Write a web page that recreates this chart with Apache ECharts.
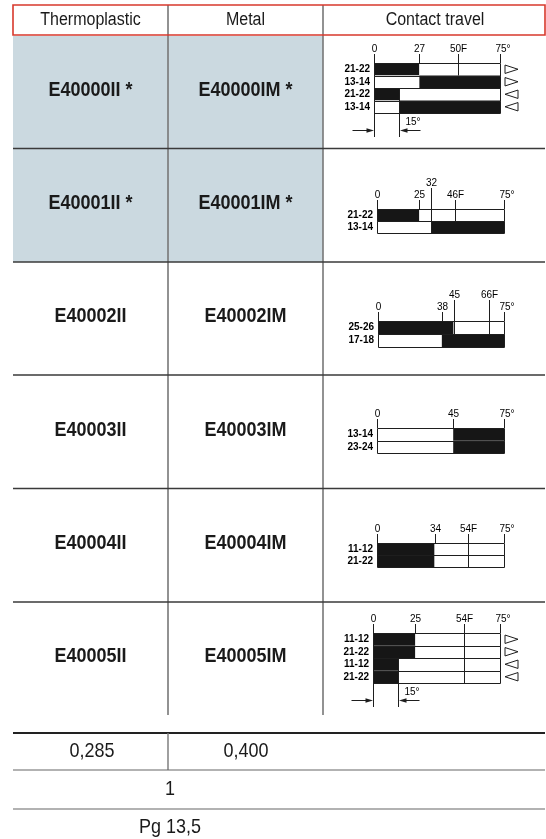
<!DOCTYPE html>
<html><head><meta charset="utf-8">
<script src="https://cdn.jsdelivr.net/npm/echarts@6/dist/echarts.min.js"></script>
<style>html,body{margin:0;padding:0;background:#fff}#c{width:546px;height:839px}</style>
</head><body><div id="c"></div>
<script>
// ---------------- data ----------------
const headers = ['Thermoplastic', 'Metal', 'Contact travel'];
const thermoCodes = ['E40000II *', 'E40001II *', 'E40002II', 'E40003II', 'E40004II', 'E40005II'];
const metalCodes = ['E40000IM *', 'E40001IM *', 'E40002IM', 'E40003IM', 'E40004IM', 'E40005IM'];
const shadedRows = [1, 1, 0, 0, 0, 0];
const weights = ['0,285', '0,400'];
const packQty = ['1'];
const gland = ['Pg 13,5'];
const travelMax = 75;

const d1Rows = ['21-22', '13-14', '21-22', '13-14'];
const d1Switch = [27, 27, 15, 15];
const d1StartBlack = [1, 0, 1, 0];
const d1TickValues = [0, 27, 50, 75];
const d1TickLabels = ['0', '27', '50F', '75°'];
const d1TickDepth = [0, 0, 1, 0];
const d1TickRaised = [0, 0, 0, 0];
const d1Arrows = ['right', 'right', 'left', 'left'];
const d1Dim = [15, 2, '15°'];

const d2Rows = ['21-22', '13-14'];
const d2Switch = [25, 32];
const d2StartBlack = [1, 0];
const d2TickValues = [0, 25, 32, 46, 75];
const d2TickLabels = ['0', '25', '32', '46F', '75°'];
const d2TickDepth = [0, 0, 2, 1, 0];
const d2TickRaised = [0, 0, 1, 0, 0];

const d3Rows = ['25-26', '17-18'];
const d3Switch = [45, 38];
const d3StartBlack = [1, 0];
const d3TickValues = [0, 38, 45, 66, 75];
const d3TickLabels = ['0', '38', '45', '66F', '75°'];
const d3TickDepth = [0, 0, 1, 1, 0];
const d3TickRaised = [0, 0, 1, 1, 0];

const d4Rows = ['13-14', '23-24'];
const d4Switch = [45, 45];
const d4StartBlack = [0, 0];
const d4TickValues = [0, 45, 75];
const d4TickLabels = ['0', '45', '75°'];
const d4TickDepth = [0, 0, 0];
const d4TickRaised = [0, 0, 0];

const d5Rows = ['11-12', '21-22'];
const d5Switch = [34, 34];
const d5StartBlack = [1, 1];
const d5TickValues = [0, 34, 54, 75];
const d5TickLabels = ['0', '34', '54F', '75°'];
const d5TickDepth = [0, 0, 2, 0];
const d5TickRaised = [0, 0, 0, 0];

const d6Rows = ['11-12', '21-22', '11-12', '21-22'];
const d6Switch = [25, 25, 15, 15];
const d6StartBlack = [1, 1, 1, 1];
const d6TickValues = [0, 25, 54, 75];
const d6TickLabels = ['0', '25', '54F', '75°'];
const d6TickDepth = [0, 0, 4, 0];
const d6TickRaised = [0, 0, 0, 0];
const d6Arrows = ['right', 'right', 'left', 'left'];
const d6Dim = [15, 2, '15°'];

const diagrams = [
  { rows: d1Rows, sw: d1Switch, sb: d1StartBlack, tv: d1TickValues, tl: d1TickLabels, td: d1TickDepth, tr: d1TickRaised, arrows: d1Arrows, dim: d1Dim },
  { rows: d2Rows, sw: d2Switch, sb: d2StartBlack, tv: d2TickValues, tl: d2TickLabels, td: d2TickDepth, tr: d2TickRaised },
  { rows: d3Rows, sw: d3Switch, sb: d3StartBlack, tv: d3TickValues, tl: d3TickLabels, td: d3TickDepth, tr: d3TickRaised },
  { rows: d4Rows, sw: d4Switch, sb: d4StartBlack, tv: d4TickValues, tl: d4TickLabels, td: d4TickDepth, tr: d4TickRaised },
  { rows: d5Rows, sw: d5Switch, sb: d5StartBlack, tv: d5TickValues, tl: d5TickLabels, td: d5TickDepth, tr: d5TickRaised },
  { rows: d6Rows, sw: d6Switch, sb: d6StartBlack, tv: d6TickValues, tl: d6TickLabels, td: d6TickDepth, tr: d6TickRaised, arrows: d6Arrows, dim: d6Dim }
];

// ---------------- layout ----------------
const FONT = "'Liberation Sans', Arial, sans-serif";
const BLACK = '#161616', WHITE = '#ffffff', INK = '#1e1e1e';
const gridLayout = [
  { left: 374, width: 126, top: 63, height: 50 },
  { left: 377, width: 127, top: 209, height: 24 },
  { left: 378, width: 126, top: 321, height: 26 },
  { left: 377, width: 127, top: 428, height: 25 },
  { left: 377, width: 127, top: 543, height: 24 },
  { left: 373, width: 127, top: 633, height: 50 }
];
const TL = 13, TR = 545, C1 = 168, C2 = 323;
const rowLines = [36, 148.5, 262, 375, 488.5, 602, 715];

const graphic = [];
function line(x1, y1, x2, y2, stroke, w) {
  graphic.push({ type: 'line', shape: { x1, y1, x2, y2 }, style: { stroke, lineWidth: w }, z: 1 });
}
function txt(x, y, s, size, bold, sy) {
  graphic.push({ type: 'text', x, y, scaleX: 1, scaleY: sy || 1.15, z: 5,
    style: { text: s, fontSize: size, fontFamily: FONT, fontWeight: bold ? 'bold' : 'normal', fill: '#1a1a1a',
      textAlign: 'center', textVerticalAlign: 'middle', align: 'center', verticalAlign: 'middle' } });
}
// shading
shadedRows.forEach((s, i) => {
  if (s) graphic.push({ type: 'rect', shape: { x: TL, y: rowLines[i], width: C2 - TL, height: rowLines[i + 1] - rowLines[i] }, style: { fill: '#cbd9e0' }, z: 0 });
});
// header
graphic.push({ type: 'rect', shape: { x: TL, y: 5, width: TR - TL, height: 30 }, style: { fill: 'none', stroke: '#d8392c', lineWidth: 1.6 }, z: 3 });
line(C1, 5, C1, 715, '#777', 1.6);
line(C2, 5, C2, 715, '#777', 1.6);
txt((TL + C1) / 2, 20, headers[0], 16, false);
txt((C1 + C2) / 2, 20, headers[1], 16, false);
txt((C2 + TR) / 2 + 1, 20, headers[2], 16, false);
for (let i = 1; i < rowLines.length - 1; i++) line(TL, rowLines[i], TR, rowLines[i], '#3a3a3a', 1.4);
thermoCodes.forEach((c, i) => {
  const cy = (rowLines[i] + rowLines[i + 1]) / 2 - 1.5;
  txt((TL + C1) / 2, cy, c, 18, true, 1.08);
  txt((C1 + C2) / 2, cy, metalCodes[i], 18, true, 1.08);
});
// bottom block
line(TL, 733, TR, 733, '#222', 2.2);
line(C1, 733, C1, 770, '#777', 1.4);
line(TL, 770, TR, 770, '#666', 1.2);
line(TL, 809, TR, 809, '#666', 1.2);
txt(92, 752, weights[0], 18, false, 1.1);
txt(246, 752, weights[1], 18, false, 1.1);
txt(170, 790, packQty[0], 18, false, 1.1);
txt(170, 828, gland[0], 18, false, 1.1);

// ---------------- chart ----------------
const grid = [], xAxis = [], yAxis = [], series = [];
function smallText(x, y, s, align) {
  return { type: 'text', x, y, scaleY: 1.15,
    style: { text: s, fontSize: 10, fontFamily: FONT, fill: '#000', textAlign: align || 'center', textVerticalAlign: 'middle', align: align || 'center', verticalAlign: 'middle' } };
}
const crisp = v => Math.round(v) + 0.5;
diagrams.forEach((d, k) => {
  grid.push(Object.assign({ containLabel: false }, gridLayout[k]));
  xAxis.push({ gridIndex: k, type: 'value', min: 0, max: travelMax, show: false });
  yAxis.push({ gridIndex: k, type: 'category', data: d.rows, inverse: true,
    axisLine: { show: false }, axisTick: { show: false }, splitLine: { show: false },
    axisLabel: { interval: 0, fontSize: 10, fontWeight: 'bold', color: '#000', margin: 4, fontFamily: FONT, lineHeight: 10 } });
  const n = d.rows.length;
  const barBase = { type: 'bar', xAxisIndex: k, yAxisIndex: k, stack: 's' + k, barWidth: '100%', barCategoryGap: '0%', barGap: '0%',
    itemStyle: { borderWidth: 0 }, z: 2 };
  series.push(Object.assign({}, barBase, {
    data: d.sw.map((v, i) => ({ value: v, itemStyle: { color: d.sb[i] ? BLACK : WHITE } })) }));
  series.push(Object.assign({}, barBase, {
    data: d.sw.map((v, i) => ({ value: travelMax - v, itemStyle: { color: d.sb[i] ? WHITE : BLACK } })) }));
  // row outlines
  series.push({ type: 'custom', xAxisIndex: k, yAxisIndex: k, clip: false, z: 4, silent: true,
    encode: { x: 0, y: 1 },
    data: d.rows.map((r, i) => [0, i, travelMax]),
    renderItem: (params, api) => {
      const a = api.coord([api.value(0), api.value(1)]);
      const b = api.coord([api.value(2), api.value(1)]);
      const band = api.size([0, 1])[1];
      const y1 = crisp(a[1] - band / 2), y2 = crisp(a[1] + band / 2);
      const x1 = crisp(a[0]), x2 = crisp(b[0]);
      return { type: 'rect', shape: { x: x1, y: y1, width: x2 - x1, height: y2 - y1 }, style: { fill: 'none', stroke: INK, lineWidth: 1 } };
    } });
  // ticks
  series.push({ type: 'custom', xAxisIndex: k, yAxisIndex: k, clip: false, z: 5, silent: true,
    encode: { x: 0, y: 1 },
    data: d.tv.map((v, i) => [v, 0, d.td[i], d.tr[i]]),
    renderItem: (params, api) => {
      const i = params.dataIndex;
      const p = api.coord([api.value(0), 0]);
      const band = api.size([0, 1])[1];
      const top = p[1] - band / 2;
      const x = crisp(p[0]);
      const y1 = top - (api.value(3) ? 21 : 9);
      const y2 = top + api.value(2) * band;
      const lab = d.tl[i];
      const dx = lab.endsWith('°') ? 2.5 : 0;
      return { type: 'group', children: [
        { type: 'line', shape: { x1: x, y1: y1, x2: x, y2: y2 }, style: { stroke: INK, lineWidth: 1 } },
        smallText(x + dx, y1 - 5, lab)
      ] };
    } });
  if (d.arrows) {
    series.push({ type: 'custom', xAxisIndex: k, yAxisIndex: k, clip: false, z: 5, silent: true,
      encode: { x: 0, y: 1 },
      data: d.arrows.map((a, i) => [travelMax, i]),
      renderItem: (params, api) => {
        const p = api.coord([api.value(0), api.value(1)]);
        const x = p[0] + 5, y = p[1];
        const right = d.arrows[params.dataIndex] === 'right';
        const pts = right ? [[x, y - 4.2], [x + 13, y], [x, y + 4.2]] : [[x + 13, y - 4.2], [x, y], [x + 13, y + 4.2]];
        return { type: 'polygon', shape: { points: pts }, style: { fill: 'none', stroke: INK, lineWidth: 1 } };
      } });
  }
  if (d.dim) {
    series.push({ type: 'custom', xAxisIndex: k, yAxisIndex: k, clip: false, z: 5, silent: true,
      encode: { x: 0, y: 1 },
      data: [[d.dim[0], d.dim[1]]],
      renderItem: (params, api) => {
        const band = api.size([0, 1])[1];
        const p0 = api.coord([0, 0]);
        const p1 = api.coord([api.value(0), api.value(1)]);
        const top = p0[1] - band / 2;
        const bottom = top + n * band;
        const x0 = crisp(p0[0]), x1 = crisp(p1[0]);
        const yEnd = bottom + 24, ya = crisp(bottom + 17);
        const dimTop = p1[1] - band / 2;
        return { type: 'group', children: [
          { type: 'line', shape: { x1: x0, y1: bottom, x2: x0, y2: yEnd }, style: { stroke: INK, lineWidth: 1 } },
          { type: 'line', shape: { x1: x1, y1: dimTop, x2: x1, y2: yEnd }, style: { stroke: INK, lineWidth: 1 } },
          { type: 'line', shape: { x1: x0 - 22, y1: ya, x2: x0 - 6, y2: ya }, style: { stroke: INK, lineWidth: 1 } },
          { type: 'polygon', shape: { points: [[x0 - 0.5, ya], [x0 - 8, ya - 2.3], [x0 - 8, ya + 2.3]] }, style: { fill: INK } },
          { type: 'line', shape: { x1: x1 + 21, y1: ya, x2: x1 + 6, y2: ya }, style: { stroke: INK, lineWidth: 1 } },
          { type: 'polygon', shape: { points: [[x1 + 0.5, ya], [x1 + 8, ya - 2.3], [x1 + 8, ya + 2.3]] }, style: { fill: INK } },
          smallText(x1 + 6, ya - 8.5, d.dim[2], 'left')
        ] };
      } });
  }
});

const chart = echarts.init(document.getElementById('c'), null, { renderer: 'canvas' });
chart.setOption({ animation: false, backgroundColor: '#fff', grid, xAxis, yAxis, series, graphic });
</script></body></html>
